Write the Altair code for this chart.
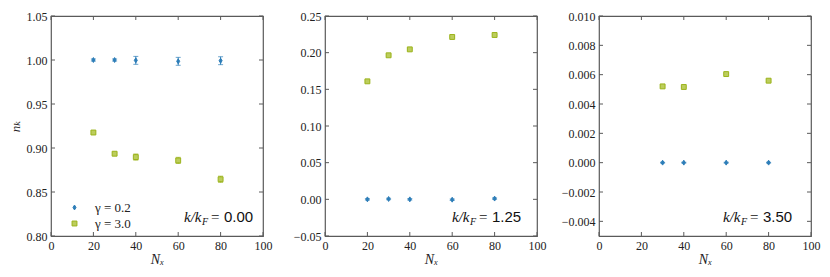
import altair as alt
import pandas as pd

# ---------------- data ----------------
series_labels = ["γ = 0.2", "γ = 3.0"]
kkf_labels = ["0.00", "1.25", "3.50"]

nx_a = [20, 30, 40, 60, 80]
g02_a = [1.000, 1.000, 0.9996, 0.9985, 0.9992]
g02_err_a = [0.0012, 0.0012, 0.0045, 0.0045, 0.0045]
g30_a = [0.9176, 0.8935, 0.8897, 0.8859, 0.8645]
g30_err_a = [0.0015, 0.0015, 0.0035, 0.0035, 0.0035]

nx_b = [20, 30, 40, 60, 80]
g02_b = [0.0, 0.0005, 0.0, -0.0005, 0.001]
g02_err_b = [0.001, 0.001, 0.001, 0.001, 0.001]
g30_b = [0.1609, 0.1964, 0.2045, 0.2214, 0.2241]
g30_err_b = [0.001, 0.001, 0.001, 0.001, 0.001]

nx_c = [30, 40, 60, 80]
g02_c = [0.0, 0.0, 0.0, 0.0]
g02_err_c = [0.00003, 0.00003, 0.00003, 0.00003]
g30_c = [0.00520, 0.00516, 0.00604, 0.00559]
g30_err_c = [0.00004, 0.00004, 0.00006, 0.00006]

x_ticks = [0, 20, 40, 60, 80, 100]
y_ticks_a = [0.80, 0.85, 0.90, 0.95, 1.00, 1.05]
y_ticks_b = [-0.05, 0.00, 0.05, 0.10, 0.15, 0.20, 0.25]
y_ticks_c = [-0.004, -0.002, 0.0, 0.002, 0.004, 0.006, 0.008, 0.010]

# ---------------- style ----------------
W, H = 212, 220
BLUE = "#2c7db8"
GREEN = "#9bb31c"
GREEN_FILL = "#bccd5c"
FRAME = "#5a5a5a"
SERIF = "Liberation Serif, Times New Roman, DejaVu Serif, serif"
SANS = "Liberation Sans, Arial, DejaVu Sans, sans-serif"
DIAMOND = "M0,-1L0.62,0L0,1L-0.62,0Z"


def panel(nx, y02, e02, y30, e30, dom, yticks, yfmt, klabel, ytitle, show_legend, text_x):
    rows = []
    for x, v, e in zip(nx, y02, e02):
        rows.append(dict(Nx=x, n=v, lo=v - e, hi=v + e, series=series_labels[0]))
    for x, v, e in zip(nx, y30, e30):
        rows.append(dict(Nx=x, n=v, lo=v - e, hi=v + e, series=series_labels[1]))
    df = pd.DataFrame(rows)

    xs = alt.Scale(domain=[0, 100], nice=False, zero=False)
    ys = alt.Scale(domain=dom, nice=False, zero=False)

    xaxis = alt.Axis(values=x_ticks, format="d", ticks=False, domain=False, grid=False,
                     labelPadding=4, labelFlush=False, labelOverlap=False,
                     labelFont=SERIF, labelFontSize=12, labelColor="#222",
                     title="Nₓ", titleFont=SERIF, titleFontStyle="italic",
                     titleFontWeight="normal", titleFontSize=14, titleColor="#222",
                     titlePadding=1)
    yaxis_kw = dict(values=yticks, format=yfmt, ticks=False, domain=False, grid=False,
                    labelPadding=4, labelFlush=False, labelOverlap=False,
                    labelFont=SERIF, labelFontSize=12, labelColor="#222")
    if ytitle:
        yaxis = alt.Axis(title=ytitle, titleFont=SERIF, titleFontStyle="italic",
                         titleFontWeight="normal", titleFontSize=13, titleColor="#222",
                         titlePadding=4, **yaxis_kw)
    else:
        yaxis = alt.Axis(title=None, **yaxis_kw)

    base = alt.Chart(df)

    layers = []
    # error bars
    for s, col in zip(series_labels, [BLUE, GREEN]):
        sub = base.transform_filter(alt.datum.series == s)
        layers.append(sub.mark_rule(color=col, strokeWidth=1).encode(
            x=alt.X("Nx:Q", scale=xs, axis=xaxis),
            y=alt.Y("lo:Q", scale=ys, axis=yaxis), y2="hi:Q"))
        for f in ["lo", "hi"]:
            layers.append(sub.mark_tick(color=col, orient="horizontal", size=5, thickness=1).encode(
                x=alt.X("Nx:Q", scale=xs, axis=xaxis),
                y=alt.Y(f + ":Q", scale=ys, axis=yaxis)))

    if show_legend:
        leg = alt.Legend(title=None, orient="none", legendX=17, legendY=185, padding=0,
                         symbolSize=24, symbolStrokeWidth=1, labelFont=SERIF,
                         labelFontSize=13, labelColor="#222", labelOffset=14, rowPadding=2)
    else:
        leg = None

    pts = base.mark_point(size=24, strokeWidth=1, opacity=1).encode(
        x=alt.X("Nx:Q", scale=xs, axis=xaxis),
        y=alt.Y("n:Q", scale=ys, axis=yaxis),
        shape=alt.Shape("series:N", scale=alt.Scale(domain=series_labels, range=[DIAMOND, "square"]), legend=leg),
        stroke=alt.Stroke("series:N", scale=alt.Scale(domain=series_labels, range=[BLUE, GREEN]), legend=leg),
        fill=alt.Fill("series:N", scale=alt.Scale(domain=series_labels, range=[BLUE, GREEN_FILL]), legend=leg),
    )
    layers.append(pts)

    # inner ticks (matplotlib-style, on all four sides)
    xt = alt.Chart(pd.DataFrame({"t": x_ticks}))
    yt = alt.Chart(pd.DataFrame({"t": yticks}))
    layers.append(xt.mark_rule(color=FRAME, strokeWidth=1).encode(
        x=alt.X("t:Q", scale=xs, axis=xaxis), y=alt.value(H), y2=alt.value(H - 4)))
    layers.append(xt.mark_rule(color=FRAME, strokeWidth=1).encode(
        x=alt.X("t:Q", scale=xs, axis=xaxis), y=alt.value(0), y2=alt.value(4)))
    layers.append(yt.mark_rule(color=FRAME, strokeWidth=1).encode(
        y=alt.Y("t:Q", scale=ys, axis=yaxis), x=alt.value(0), x2=alt.value(4)))
    layers.append(yt.mark_rule(color=FRAME, strokeWidth=1).encode(
        y=alt.Y("t:Q", scale=ys, axis=yaxis), x=alt.value(W), x2=alt.value(W - 4)))

    # annotation  k/k_F = value
    tdf = alt.Chart(pd.DataFrame({"v": [klabel]}))
    by = 206
    layers.append(tdf.mark_text(text="k/k", font=SERIF, fontStyle="italic", fontSize=15,
                                align="left", baseline="alphabetic", color="#111").encode(
        x=alt.value(text_x), y=alt.value(by)))
    layers.append(tdf.mark_text(text="F", font=SERIF, fontStyle="italic", fontSize=10,
                                align="left", baseline="alphabetic", color="#111").encode(
        x=alt.value(text_x + 18), y=alt.value(by + 3)))
    layers.append(tdf.mark_text(text="=", font=SERIF, fontSize=15,
                                align="left", baseline="alphabetic", color="#111").encode(
        x=alt.value(text_x + 27), y=alt.value(by)))
    layers.append(tdf.mark_text(font=SANS, fontSize=15, align="left",
                                baseline="alphabetic", color="#111").encode(
        text="v:N", x=alt.value(text_x + 40), y=alt.value(by)))

    return alt.layer(*layers).properties(width=W, height=H)


p1 = panel(nx_a, g02_a, g02_err_a, g30_a, g30_err_a, [0.80, 1.05], y_ticks_a, ".2f",
           kkf_labels[0], "nₖ", True, 133)
p2 = panel(nx_b, g02_b, g02_err_b, g30_b, g30_err_b, [-0.05, 0.25], y_ticks_b, ".2f",
           kkf_labels[1], None, False, 127)
p3 = panel(nx_c, g02_c, g02_err_c, g30_c, g30_err_c, [-0.005, 0.010], y_ticks_c, ".3f",
           kkf_labels[2], None, False, 124)

chart = alt.hconcat(p1, p2, p3, spacing=62, bounds="flush").resolve_scale(
    shape="independent", stroke="independent", fill="independent"
).properties(
    padding={"left": 0, "top": 1, "right": 0, "bottom": 0}, background="white"
).configure_view(stroke=FRAME, strokeWidth=1.2)

chart.save("out.html", embed_options={"renderer": "svg", "actions": False})
